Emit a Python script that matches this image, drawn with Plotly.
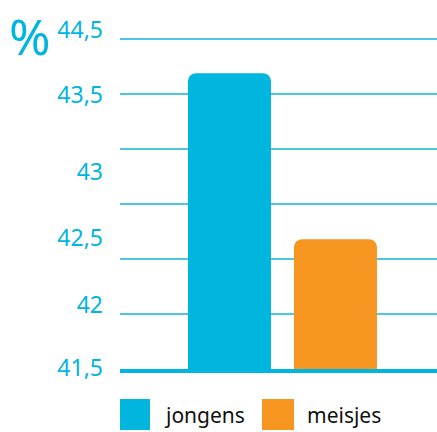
import plotly.graph_objects as go

categories = ["jongens", "meisjes"]
values = [44.19, 42.68]
colors = ["#00b5de", "#f6951f"]
tick_positions = [41.51, 42.08, 42.69, 43.29, 43.99, 44.58]
tick_labels = ["41,5", "42", "42,5", "43", "43,5", "44,5"]

CYAN = "#00b5de"
FONT = "Noto Sans"

fig = go.Figure()
for cat, val, col in zip(categories, values, colors):
    fig.add_trace(go.Bar(
        x=[cat], y=[val], name=cat, width=0.783,
        marker=dict(color=col, cornerradius=8, line=dict(width=0)),
        showlegend=False,
    ))

# legend drawn manually (large swatches)
leg = [
    (0.0, 0.0946, 0.1325, categories[0], colors[0]),
    (0.448, 0.5489, 0.5836, categories[1], colors[1]),
]
for x0, x1, xt, txt, col in leg:
    fig.add_shape(type="rect", xref="paper", yref="paper",
                  x0=x0, x1=x1, y0=-0.1758, y1=-0.0865,
                  fillcolor=col, line=dict(width=0))
    fig.add_annotation(x=xt, y=-0.132, xref="paper", yref="paper",
                       text=txt, showarrow=False, xanchor="left", yanchor="middle",
                       font=dict(family=FONT, size=21, color="#111111"))

fig.add_annotation(x=-0.284, y=1.0634, xref="paper", yref="paper", text="%",
                   showarrow=False, xanchor="center", yanchor="top",
                   font=dict(family=FONT, size=50, color=CYAN))

fig.update_layout(
    width=437, height=432,
    margin=dict(l=120, r=0, t=22, b=63),
    paper_bgcolor="white", plot_bgcolor="white",
    barmode="overlay",
    showlegend=False,
    font=dict(family=FONT),
)
fig.update_xaxes(
    type="category", categoryorder="array", categoryarray=categories,
    range=[-1.033, 1.958], showticklabels=False, showgrid=False,
    showline=True, linecolor=CYAN, linewidth=4, zeroline=False, ticks="",
)
fig.update_yaxes(
    range=[41.5, 44.655], tickmode="array", tickvals=tick_positions, ticktext=tick_labels,
    showgrid=False, zeroline=False, ticks="", ticklabelstandoff=16,
    tickfont=dict(family=FONT, size=23, color=CYAN),
    minor=dict(tickmode="linear", tick0=41.5, dtick=0.5, showgrid=True,
               gridcolor="#4cc6e4", gridwidth=1.5, ticks=""),
)

fig.write_html("out.html", config={"displayModeBar": False},
               post_script="document.body.style.margin='0';document.body.style.overflow='hidden';")
